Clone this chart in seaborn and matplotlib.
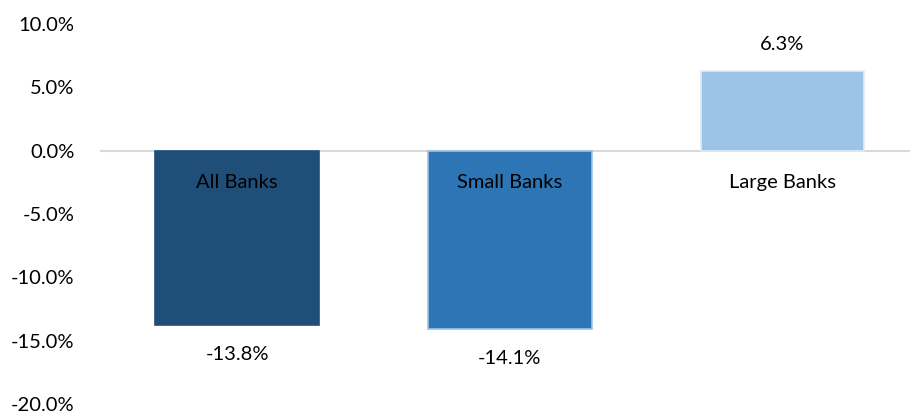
import matplotlib
matplotlib.use("Agg")
import matplotlib.pyplot as plt
import seaborn as sns
import pandas as pd
from matplotlib.ticker import FuncFormatter

categories = ["All Banks", "Small Banks", "Large Banks"]
values = [-13.8, -14.1, 6.3]
colors = ["#1F4E79", "#2E75B6", "#9DC3E6"]
edge_colors = ["#1F4E79", "#9DC3E6", "#DEEBF7"]
yticks = [10, 5, 0, -5, -10, -15, -20]

sns.set_theme(style="white")
plt.rcParams["font.family"] = ["Lato", "DejaVu Sans"]

df = pd.DataFrame({"cat": categories, "val": values})

fig = plt.figure(figsize=(9.12, 4.13), dpi=100)
ax = fig.add_axes([0.11, 0.022, 0.888, 0.92])

sns.barplot(data=df, x="cat", y="val", hue="cat", palette=colors, legend=False,
            width=0.6, linewidth=1.2, ax=ax, saturation=1)
for p, ec in zip(ax.patches, edge_colors):
    p.set_edgecolor(ec)

fs = 14.5
ax.set_ylim(-20, 10)
ax.set_yticks(yticks)
ax.yaxis.set_major_formatter(FuncFormatter(lambda v, p: f"{v:.1f}%"))
ax.tick_params(axis="y", labelsize=fs, length=0, pad=18.5, colors="#000000")
ax.set_xticks([])
ax.set_xlabel("")
ax.set_ylabel("")
for s in ax.spines.values():
    s.set_visible(False)
ax.axhline(0, color="#D9D9D9", linewidth=1.5, zorder=0.5)
ax.set_xlim(-0.502, 2.468)

for i, (c, v) in enumerate(zip(categories, values)):
    ax.text(i, -2.5, c, ha="center", va="center", fontsize=fs, color="#000000")
    if v < 0:
        ax.text(i, v - 2.3, f"{v:.1f}%", ha="center", va="center", fontsize=fs, color="#000000")
    else:
        ax.text(i, v + 2.1, f"{v:.1f}%", ha="center", va="center", fontsize=fs, color="#000000")

fig.savefig("out.png", dpi=100)
